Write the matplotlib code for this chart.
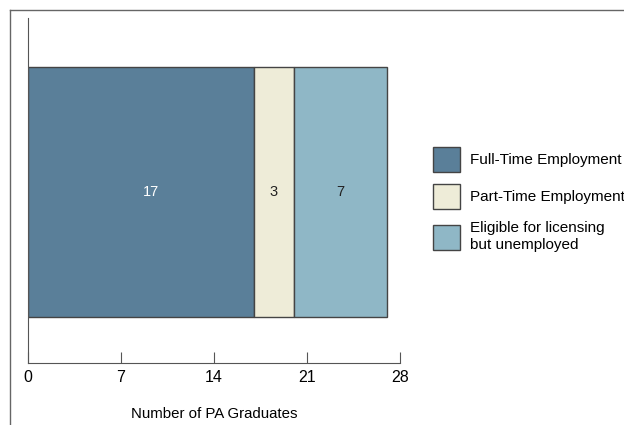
import matplotlib.pyplot as plt
from matplotlib.patches import Patch
from matplotlib.lines import Line2D

categories = ['Full-Time Employment', 'Part-Time Employment', 'Eligible for licensing\nbut unemployed']
values = [17, 3, 7]
colors = ['#5a7f99', '#eeecd8', '#8fb7c6']
label_colors = ['white', '#222222', '#222222']
label_shift = [7, 0, 0]  # points, the "17" sits a bit right of centre in the original
xticks = [0, 7, 14, 21, 28]

plt.rcParams['font.family'] = ['Liberation Sans', 'DejaVu Sans']

fig = plt.figure(figsize=(6.24, 4.25), dpi=100)
ax = fig.add_axes([28 / 624, 1 - 363 / 425, 372 / 624, 345 / 425])

left = 0
for val, col, lc, dx in zip(values, colors, label_colors, label_shift):
    ax.barh(0, val, left=left, height=1, color=col, edgecolor='#444444', linewidth=1)
    ax.annotate(str(val), (left + val / 2, 0), xytext=(dx, 0), textcoords='offset points',
                ha='center', va='center', color=lc, fontsize=10.5)
    left += val

ax.set_xlim(0, 28)
ax.set_ylim(-0.684, 0.696)
ax.set_xticks(xticks)
ax.set_yticks([])
ax.tick_params(axis='x', direction='in', length=8, color='#555555', labelsize=11.5, pad=5)
for s in ['top', 'right']:
    ax.spines[s].set_visible(False)
for s in ['left', 'bottom']:
    ax.spines[s].set_color('#555555')
ax.set_xlabel('Number of PA Graduates', fontsize=10.8, labelpad=16)

handles = [Patch(facecolor=c, edgecolor='#444444', linewidth=1) for c in colors]
fig.legend(handles, categories, loc='upper left', bbox_to_anchor=(419 / 624, 1 - 133 / 425),
           frameon=False, fontsize=11, handlelength=1.77, handleheight=2.15,
           labelspacing=0.8, handletextpad=0.7)

# outer frame lines
fig.add_artist(Line2D([10 / 624, 1], [1 - 10 / 425, 1 - 10 / 425], color='#666666', lw=1))
fig.add_artist(Line2D([10 / 624, 10 / 624], [0, 1 - 10 / 425], color='#666666', lw=1))

fig.savefig('out.png', dpi=100)
